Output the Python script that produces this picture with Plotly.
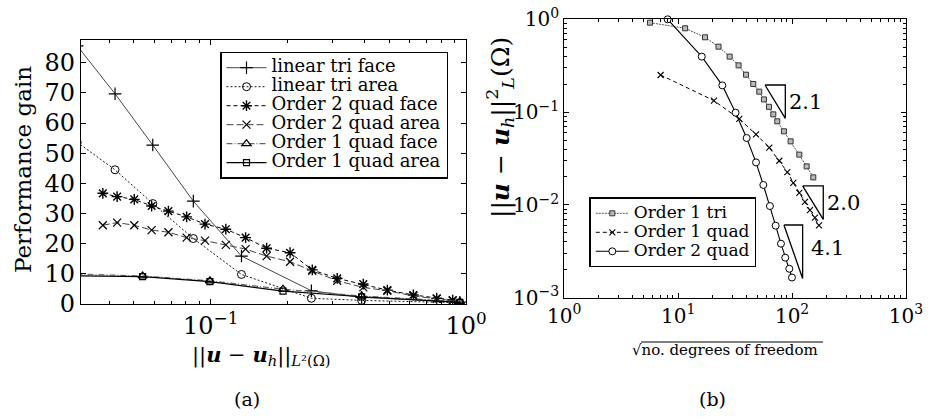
import math
import plotly.graph_objects as go

# ---------------- Panel (a) data ----------------
tri_face_x = [0.030, 0.0422, 0.0593, 0.0855, 0.132, 0.248, 0.39, 0.946]
tri_face_y = [85.6, 69.7, 52.7, 34.1, 15.9, 4.4, 2.2, 0.6]

tri_area_x = [0.030, 0.0422, 0.0593, 0.0855, 0.132, 0.248, 0.39, 0.946]
tri_area_y = [53.6, 44.5, 33.3, 21.7, 9.8, 1.9, 1.2, 0.4]

q2_x = [0.0378, 0.043, 0.0502, 0.0587, 0.0683, 0.0805, 0.095, 0.1146, 0.137,
        0.1656, 0.2046, 0.25, 0.313, 0.396, 0.492, 0.622, 0.768, 0.887]
q2_face_y = [36.7, 35.6, 34.7, 32.5, 30.8, 28.9, 26.5, 24.8, 22.0,
             18.5, 17.0, 11.3, 8.5, 6.6, 4.6, 3.0, 1.9, 1.3]
q2_area_y = [26.1, 27.0, 26.1, 24.5, 23.8, 22.0, 21.0, 19.6, 18.2,
             15.9, 14.0, 11.0, 7.7, 5.5, 4.4, 2.65, 1.7, 1.1]

q1_x = [0.027, 0.0541, 0.0993, 0.192, 0.39, 0.946]
q1_face_y = [10.05, 9.3, 7.7, 4.9, 2.65, 0.8]
q1_area_y = [9.35, 9.1, 7.4, 4.3, 2.4, 0.55]

a_names = ["linear tri face", "linear tri area", "Order 2 quad face",
           "Order 2 quad area", "Order 1 quad face", "Order 1 quad area"]
a_yticks = [0, 10, 20, 30, 40, 50, 60, 70, 80]
a_xticks = [0.1, 1.0]
a_xticktext = ["10<sup>−1</sup>", "10<sup>0</sup>"]

# ---------------- Panel (b) data ----------------
tri1_x = [5.65, 11.5, 17.2, 22.6, 28.3, 33.9, 39.4, 45.6, 51.5, 56.6, 62.7,
          68.4, 74.1, 84.8, 97.1, 115.7, 134.2, 153.5]
tri1_y = [0.92, 0.80, 0.64, 0.507, 0.396, 0.319, 0.253, 0.201, 0.166, 0.137,
          0.114, 0.0946, 0.0796, 0.0621, 0.0484, 0.0348, 0.026, 0.0198]

quad1_x = [7.01, 20.6, 34.4, 48.2, 63.1, 77.2, 90.8, 102.5, 115.7, 129.7,
           143.5, 158.8, 172.2]
quad1_y = [0.251, 0.133, 0.0843, 0.0576, 0.0414, 0.0299, 0.0226, 0.0173,
           0.0135, 0.0108, 0.00878, 0.00731, 0.00601]

quad2_x = [8.08, 16.1, 24.4, 31.9, 39.9, 48.2, 55.9, 63.9, 71.7, 79.8, 87.1,
           94.5, 99.7]
quad2_y = [1.0, 0.396, 0.194, 0.0986, 0.0526, 0.0287, 0.0164, 0.00972,
           0.00597, 0.00382, 0.0027, 0.00205, 0.00165]

b_names = ["Order 1 tri", "Order 1 quad", "Order 2 quad"]

# slope triangles: x_left, x_right, y_top, y_bottom, label, label x, label y
slope_tri = [
    (57.8, 87.2, 0.196, 0.0857, "2.1", 132.0, 0.128),
    (123.7, 187.8, 0.0160, 0.00698, "2.0", 285.0, 0.0106),
    (84.8, 123.7, 0.00607, 0.00161, "4.1", 203.0, 0.0034),
]

b_xticks = [1, 10, 100, 1000]
b_xticktext = ["10<sup>0</sup>", "10<sup>1</sup>", "10<sup>2</sup>", "10<sup>3</sup>"]
b_yticks = [0.001, 0.01, 0.1, 1]
b_yticktext = ["10<sup>−3</sup>", "10<sup>−2</sup>", "10<sup>−1</sup>", "10<sup>0</sup>"]

SERIF = "DejaVu Serif"
W, H = 935, 419


def px(x):
    return x / W


def py(y):
    return 1 - y / H


def lname(s, size=18):
    return '<span style="font-size:%dpx">%s</span>' % (size, s)


def openmk(symbol, size, lw=1.2):
    return dict(symbol=symbol, size=size, color="black", line=dict(color="black", width=lw))


fig = go.Figure()

# panel (a) traces
fig.add_trace(go.Scatter(x=tri_face_x, y=tri_face_y, name=lname(a_names[0]), mode="lines+markers",
                         line=dict(color="#333", width=0.9),
                         marker=dict(symbol="cross-thin", size=9, color="black",
                                     line=dict(color="black", width=1.2)),
                         xaxis="x", yaxis="y", legend="legend"))
fig.add_trace(go.Scatter(x=tri_area_x, y=tri_area_y, name=lname(a_names[1]), mode="lines+markers",
                         line=dict(color="black", width=0.9, dash="2px,2px"),
                         marker=openmk("circle-open", 8, 1.0),
                         xaxis="x", yaxis="y", legend="legend"))
fig.add_trace(go.Scatter(x=q2_x, y=q2_face_y, name=lname(a_names[2]), mode="lines+markers",
                         line=dict(color="black", width=1.0, dash="4px,3px"),
                         marker=dict(symbol="asterisk-open", size=9, color="black",
                                     line=dict(color="black", width=1.4)),
                         xaxis="x", yaxis="y", legend="legend"))
fig.add_trace(go.Scatter(x=q2_x, y=q2_area_y, name=lname(a_names[3]), mode="lines+markers",
                         line=dict(color="#444", width=1.0, dash="7px,3px"),
                         marker=dict(symbol="x-thin", size=8, color="black",
                                     line=dict(color="black", width=1.2)),
                         xaxis="x", yaxis="y", legend="legend"))
fig.add_trace(go.Scatter(x=q1_x, y=q1_face_y, name=lname(a_names[4]), mode="lines+markers",
                         line=dict(color="#666", width=1.2, dash="6px,2px,1px,2px"),
                         marker=openmk("triangle-up-open", 8, 1.3),
                         xaxis="x", yaxis="y", legend="legend"))
fig.add_trace(go.Scatter(x=q1_x, y=q1_area_y, name=lname(a_names[5]), mode="lines+markers",
                         line=dict(color="black", width=1.2),
                         marker=openmk("square-open", 6, 1.2),
                         xaxis="x", yaxis="y", legend="legend"))

# panel (b) traces
fig.add_trace(go.Scatter(x=tri1_x, y=tri1_y, name=lname(b_names[0], 17), mode="lines+markers",
                         line=dict(color="#555", width=1.0, dash="2px,1px"),
                         marker=dict(symbol="square", size=5, color="#bbb",
                                     line=dict(color="#333", width=1)),
                         cliponaxis=False,
                         xaxis="x2", yaxis="y2", legend="legend2"))
fig.add_trace(go.Scatter(x=quad1_x, y=quad1_y, name=lname(b_names[1], 17), mode="lines+markers",
                         line=dict(color="black", width=1.0, dash="4px,3px"),
                         marker=dict(symbol="x-thin", size=6, color="black",
                                     line=dict(color="black", width=1.1)),
                         cliponaxis=False,
                         xaxis="x2", yaxis="y2", legend="legend2"))
fig.add_trace(go.Scatter(x=quad2_x, y=quad2_y, name=lname(b_names[2], 17), mode="lines+markers",
                         line=dict(color="black", width=1.1),
                         marker=dict(symbol="circle", size=7, color="white",
                                     line=dict(color="black", width=1.0)),
                         cliponaxis=False,
                         xaxis="x2", yaxis="y2", legend="legend2"))

annotations = []
for (xl, xr, yt, yb, lab, lx, ly) in slope_tri:
    fig.add_trace(go.Scatter(x=[xl, xr, xr, xl], y=[yt, yt, yb, yt], mode="lines",
                             line=dict(color="black", width=1.3), showlegend=False,
                             hoverinfo="skip", xaxis="x2", yaxis="y2"))
    annotations.append(dict(x=math.log10(lx), y=math.log10(ly),
                            xref="x2", yref="y2", text=lab, showarrow=False,
                            xanchor="center", yanchor="middle",
                            font=dict(family=SERIF, size=21, color="black")))

axis_common = dict(showline=True, linecolor="black", linewidth=1.3, mirror="ticks",
                   ticks="inside", ticklen=5, tickcolor="black", tickwidth=1,
                   showgrid=False, zeroline=False, automargin=False)
minor_log = dict(ticks="inside", ticklen=3, tickcolor="black", dtick="D1", showgrid=False)
tf_a = dict(family=SERIF, size=24, color="black")
tf_b = dict(family=SERIF, size=20, color="black")

fig.update_layout(
    template="none",
    width=W, height=H,
    margin=dict(l=0, r=0, t=0, b=0, autoexpand=False),
    paper_bgcolor="white", plot_bgcolor="white",
    showlegend=True,
    xaxis=dict(axis_common, type="log", domain=[px(81), px(466)],
               range=[-1.508, 0.0], tickvals=a_xticks, ticktext=a_xticktext,
               tickfont=tf_a, minor=minor_log, anchor="y"),
    yaxis=dict(axis_common, domain=[py(304), py(39.5)], range=[0, 87.7],
               tickvals=a_yticks, tickfont=tf_a, anchor="x"),
    xaxis2=dict(axis_common, type="log", domain=[px(564.3), px(906)],
                range=[0, 3], tickvals=b_xticks, ticktext=b_xticktext,
                tickfont=tf_b, minor=minor_log, anchor="y2"),
    yaxis2=dict(axis_common, type="log", domain=[py(297.7), py(19.3)],
                range=[-3, 0], tickvals=b_yticks, ticktext=b_yticktext,
                tickfont=tf_b, minor=minor_log, anchor="x2"),
    legend=dict(x=px(220), y=py(51.7), xanchor="left", yanchor="top",
                bgcolor="white", bordercolor="black", borderwidth=1.5,
                font=dict(family=SERIF, size=12, color="black"),
                itemwidth=40, tracegroupgap=0),
    legend2=dict(x=px(589.3), y=py(197.3), xanchor="left", yanchor="top",
                 bgcolor="white", bordercolor="black", borderwidth=1.5,
                 font=dict(family=SERIF, size=11, color="black"),
                 itemwidth=33, tracegroupgap=0),
)

U = "<b><i>u</i></b>"


def ann(x, y, text, size, angle=0):
    return dict(x=px(x), y=py(y), xref="paper", yref="paper", text=text,
                textangle=angle, showarrow=False, xanchor="center", yanchor="middle",
                font=dict(family=SERIF, size=size, color="black"))


annotations += [
    ann(23, 170, "Performance gain", 23, -90),
    ann(261, 355, "||" + U + " − " + U + "<sub><i>h</i></sub>||<sub><i>L</i>²(Ω)</sub>", 21),
    ann(247, 399, "(a)", 19),
    ann(500, 128, "||" + U + " − " + U + "<sub><i>h</i></sub>||<sup>2</sup><sub><i>L</i></sub>(Ω)", 25, -90),
    ann(725, 350, "√no. degrees of freedom", 15),
    ann(712, 399, "(b)", 19),
]
fig.update_layout(annotations=annotations)
fig.add_shape(type="line", xref="paper", yref="paper",
              x0=px(641), x1=px(823), y0=py(342), y1=py(342),
              line=dict(color="black", width=1))

fig.write_html("out.html", config={"displayModeBar": False},
               post_script="document.body.style.margin='0';document.body.style.overflow='hidden';")
